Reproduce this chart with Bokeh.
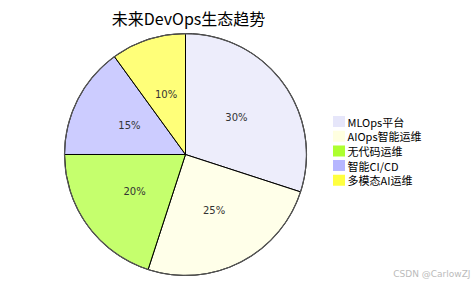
import math
from bokeh.plotting import figure
from bokeh.models import Range1d, ColumnDataSource
from bokeh.core.properties import value
from bokeh.embed import file_html
from bokeh.resources import INLINE

title = "未来DevOps生态趋势"
categories = ["MLOps平台", "AIOps智能运维", "无代码运维", "智能CI/CD", "多模态AI运维"]
shares = [30, 25, 20, 15, 10]
colors = ["#e6e6fa", "#ffffe0", "#adff2f", "#b6b6ff", "#ffff40"]
watermark = "CSDN @CarlowZJ"

W, H = 473, 286
cx, cy, r = 185, H - 154, 121

p = figure(width=W, height=H, output_backend="svg", toolbar_location=None,
           x_range=Range1d(0, W), y_range=Range1d(0, H), min_border=0)
p.axis.visible = False
p.grid.visible = False
p.outline_line_color = None
p.background_fill_color = "white"

total = sum(shares)
starts, ends, lx, ly, labels = [], [], [], [], []
cum = 0
for s in shares:
    a0 = math.pi / 2 - 2 * math.pi * cum / total
    a1 = math.pi / 2 - 2 * math.pi * (cum + s) / total
    starts.append(a0)
    ends.append(a1)
    mid = (a0 + a1) / 2
    lx.append(cx + 0.52 * r * math.cos(mid))
    ly.append(cy + 0.52 * r * math.sin(mid))
    labels.append(f"{s}%")
    cum += s

src = ColumnDataSource(dict(start=starts, end=ends, color=colors, lx=lx, ly=ly, label=labels))
p.wedge(x=cx, y=cy, radius=r, start_angle="start", end_angle="end", direction="clock",
        fill_color="color", fill_alpha=0.7, line_color="black", line_width=1, source=src)
p.circle(x=[cx], y=[cy], radius=r, fill_color=None, line_color="#555555", line_width=1.2)
p.text(x="lx", y="ly", text="label", source=src, text_align="center", text_baseline="middle",
       text_font=value("DejaVu Sans"), text_font_size="10px", text_color="#333333")

# title
p.text(x=[188], y=[H - 17], text=[title], text_align="center", text_baseline="middle",
       text_font=value("Noto Sans CJK SC"), text_font_size="16px", text_color="black")

# legend
ley = [H - (121 + 14.7 * i) for i in range(len(categories))]
lsrc = ColumnDataSource(dict(y=ley, color=colors, name=categories))
p.rect(x=338.5, y="y", width=12, height=11, fill_color="color", line_color=None, source=lsrc)
p.text(x=347, y="y", text="name", source=lsrc, text_align="left", text_baseline="middle",
       text_font=value("Noto Sans CJK SC"), text_font_size="11px", text_color="black")

# watermark
p.text(x=[470], y=[H - 273], text=[watermark], text_align="right", text_baseline="middle",
       text_font=value("DejaVu Sans"), text_font_size="9px", text_color="#bbbbbb")

open("out.html", "w").write(file_html(p, INLINE))
